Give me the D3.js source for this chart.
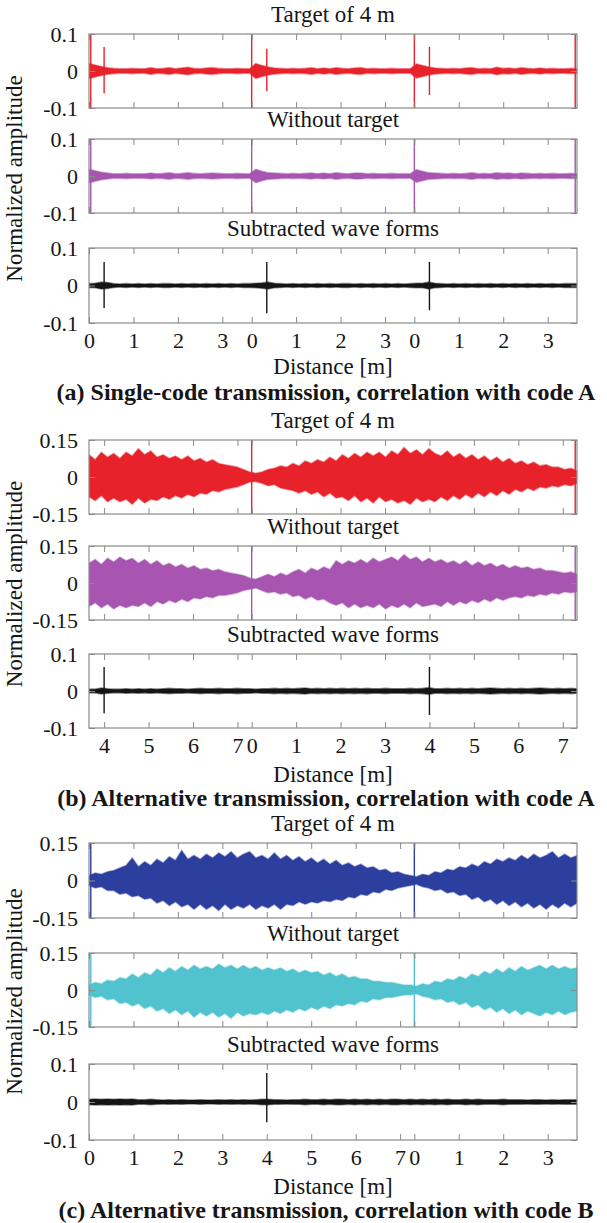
<!DOCTYPE html>
<html>
<head>
<meta charset="utf-8">
<script src="https://cdn.jsdelivr.net/npm/d3@7"></script>
<style>
  body { margin: 0; background: #fff; }
  svg text { font-family: 'Liberation Serif', 'Times New Roman', Times, 'DejaVu Serif', serif; fill: #161616; }
  .tick line { stroke: #8a8a8a; }
</style>
</head>
<body>
<svg id="fig" width="607" height="1223"></svg>
<script>
/* ── Correlation wave forms, three transmission cases ── */

// ── Distance axes (metres) ──────────────────────────
const L = 3.66;              // one code period
const U = 3 * L;             // plotted span
const segA = [[0, L], [0, L], [0, L]];
const segB = [[L, 2 * L], [0, 2 * L]];
const segC = [[0, 2 * L], [0, L]];

// ── Envelopes, 80 samples over the span ─────────────
const a1Env = [0.02,0.016,0.012,0.009,0.007,0.006,0.006,0.007,0.006,0.006,
  0.009,0.006,0.007,0.009,0.006,0.008,0.01,0.007,0.006,0.008,
  0.009,0.007,0.006,0.006,0.007,0.006,0.006,0.02,0.015,0.011,
  0.008,0.007,0.006,0.007,0.006,0.007,0.009,0.006,0.008,0.006,
  0.009,0.007,0.006,0.008,0.009,0.006,0.007,0.006,0.006,0.007,
  0.006,0.006,0.006,0.019,0.015,0.011,0.008,0.007,0.006,0.007,
  0.006,0.008,0.009,0.006,0.007,0.006,0.01,0.007,0.008,0.006,
  0.009,0.007,0.006,0.008,0.006,0.007,0.006,0.006,0.007,0.006];
const a2Env = [0.018,0.014,0.01,0.008,0.006,0.006,0.007,0.006,0.006,0.006,
  0.008,0.006,0.007,0.009,0.006,0.007,0.009,0.007,0.006,0.007,
  0.008,0.007,0.006,0.006,0.007,0.006,0.006,0.018,0.013,0.009,
  0.008,0.007,0.006,0.007,0.006,0.007,0.008,0.006,0.008,0.006,
  0.009,0.007,0.006,0.008,0.008,0.006,0.007,0.006,0.006,0.007,
  0.006,0.006,0.006,0.017,0.013,0.009,0.008,0.007,0.006,0.007,
  0.006,0.007,0.009,0.006,0.007,0.006,0.009,0.007,0.008,0.006,
  0.008,0.007,0.006,0.007,0.006,0.007,0.006,0.006,0.007,0.006];
const a3Env = [0.005,0.006,0.009,0.008,0.005,0.004,0.005,0.004,0.005,0.004,
  0.005,0.004,0.005,0.005,0.004,0.005,0.004,0.005,0.004,0.005,
  0.004,0.005,0.004,0.005,0.004,0.005,0.005,0.006,0.007,0.009,
  0.006,0.005,0.004,0.005,0.004,0.005,0.004,0.005,0.004,0.005,
  0.004,0.005,0.005,0.004,0.005,0.004,0.005,0.004,0.005,0.004,
  0.005,0.004,0.005,0.006,0.006,0.009,0.006,0.005,0.004,0.005,
  0.004,0.005,0.004,0.005,0.004,0.005,0.004,0.005,0.004,0.005,
  0.004,0.005,0.004,0.005,0.004,0.005,0.004,0.005,0.005,0.005];

const b1Hi = [0.09,0.07,0.1,0.08,0.095,0.075,
  0.1,0.085,0.115,0.09,0.105,0.08,0.09,
  0.075,0.085,0.07,0.085,0.065,0.075,
  0.06,0.07,0.055,0.05,0.045,0.04,
  0.03,0.02,0.015,
  0.02,0.03,0.035,0.045,0.04,
  0.055,0.045,0.065,0.055,0.07,0.06,0.08,0.065,
  0.09,0.075,0.095,0.08,0.1,0.085,0.1,0.08,
  0.105,0.09,0.12,0.095,0.11,0.09,0.115,0.095,0.085,0.105,
  0.08,0.095,0.075,0.09,0.07,0.085,0.065,0.08,0.06,0.075,
  0.055,0.065,0.05,0.06,0.045,0.05,0.04,
  0.04,0.03,0.035,0.025];
const b1Lo = [-0.08,-0.095,-0.075,-0.1,-0.085,-0.1,
  -0.09,-0.11,-0.085,-0.105,-0.09,-0.095,-0.08,
  -0.09,-0.075,-0.085,-0.07,-0.08,-0.065,
  -0.07,-0.055,-0.06,-0.05,-0.045,-0.04,
  -0.03,-0.02,-0.018,
  -0.025,-0.035,-0.03,-0.045,-0.05,
  -0.055,-0.065,-0.055,-0.07,-0.06,-0.08,-0.065,-0.085,
  -0.08,-0.095,-0.075,-0.1,-0.085,-0.105,-0.08,-0.1,
  -0.09,-0.105,-0.095,-0.11,-0.085,-0.1,-0.09,-0.1,-0.08,-0.095,
  -0.075,-0.09,-0.07,-0.085,-0.065,-0.08,-0.06,-0.075,-0.055,-0.07,
  -0.05,-0.06,-0.045,-0.055,-0.04,-0.045,-0.035,
  -0.04,-0.03,-0.035,-0.025];
const b2Hi = [0.08,0.095,0.075,0.1,0.085,0.105,
  0.09,0.1,0.08,0.095,0.075,0.09,0.07,
  0.08,0.065,0.075,0.06,0.07,0.055,
  0.06,0.05,0.055,0.045,0.04,0.035,
  0.03,0.02,0.015,
  0.025,0.035,0.025,0.04,0.03,
  0.045,0.055,0.04,0.06,0.05,0.065,0.055,0.09,
  0.075,0.09,0.08,0.095,0.08,0.1,0.085,0.095,
  0.105,0.09,0.115,0.095,0.105,0.085,0.1,0.085,0.095,0.08,
  0.09,0.075,0.09,0.07,0.085,0.07,0.08,0.065,0.075,0.06,
  0.07,0.06,0.065,0.055,0.06,0.05,0.05,
  0.045,0.04,0.045,0.035];
const b2Lo = [-0.095,-0.08,-0.1,-0.085,-0.105,-0.09,
  -0.1,-0.09,-0.095,-0.08,-0.095,-0.075,-0.085,
  -0.07,-0.08,-0.065,-0.075,-0.06,-0.065,
  -0.055,-0.06,-0.05,-0.05,-0.045,-0.04,
  -0.03,-0.025,-0.02,
  -0.03,-0.04,-0.035,-0.045,-0.04,
  -0.055,-0.05,-0.065,-0.055,-0.07,-0.065,-0.08,-0.09,
  -0.08,-0.1,-0.085,-0.1,-0.09,-0.1,-0.085,-0.105,
  -0.09,-0.1,-0.085,-0.1,-0.08,-0.095,-0.09,-0.085,-0.095,-0.075,
  -0.09,-0.075,-0.085,-0.07,-0.08,-0.065,-0.075,-0.06,-0.07,-0.06,
  -0.055,-0.06,-0.05,-0.055,-0.045,-0.05,-0.04,
  -0.045,-0.035,-0.04,-0.035];
const b3Env = [0.005,0.005,0.008,0.006,0.005,0.005,0.006,0.005,0.006,0.005,
  0.006,0.005,0.006,0.007,0.006,0.006,0.005,0.006,0.007,0.006,
  0.006,0.007,0.006,0.006,0.007,0.006,0.006,0.005,0.006,0.006,
  0.007,0.006,0.007,0.006,0.007,0.008,0.006,0.007,0.006,0.007,
  0.006,0.007,0.006,0.007,0.006,0.007,0.006,0.006,0.007,0.006,
  0.006,0.006,0.007,0.006,0.007,0.009,0.006,0.006,0.007,0.006,
  0.007,0.006,0.007,0.006,0.007,0.008,0.007,0.006,0.007,0.006,
  0.007,0.006,0.007,0.008,0.007,0.006,0.007,0.006,0.007,0.006];

const c1Hi = [0.02,0.03,0.025,0.035,0.04,0.05,
  0.06,0.09,0.055,0.075,0.06,0.085,0.07,
  0.095,0.08,0.12,0.085,0.1,0.085,
  0.105,0.09,0.11,0.095,0.115,0.09,
  0.105,0.115,0.09,0.1,0.085,0.11,
  0.085,0.1,0.08,0.095,0.075,0.09,
  0.07,0.085,0.065,0.08,0.06,0.07,
  0.055,0.065,0.05,0.055,0.04,0.045,
  0.03,0.035,0.025,0.02,0.015,
  0.025,0.02,0.035,0.03,0.045,0.04,
  0.055,0.05,0.065,0.055,0.075,0.065,0.085,
  0.075,0.09,0.08,0.1,0.085,0.105,0.09,
  0.1,0.115,0.09,0.105,0.09,0.1];
const c1Lo = [-0.02,-0.03,-0.025,-0.04,-0.04,-0.055,
  -0.05,-0.065,-0.06,-0.075,-0.07,-0.09,-0.08,
  -0.1,-0.085,-0.105,-0.095,-0.115,-0.095,
  -0.115,-0.1,-0.12,-0.095,-0.115,-0.1,
  -0.11,-0.095,-0.115,-0.1,-0.11,-0.095,
  -0.115,-0.095,-0.1,-0.085,-0.095,-0.085,
  -0.09,-0.08,-0.085,-0.075,-0.08,-0.065,
  -0.07,-0.055,-0.06,-0.045,-0.05,-0.035,
  -0.04,-0.03,-0.025,-0.02,-0.015,
  -0.025,-0.03,-0.04,-0.035,-0.05,-0.045,
  -0.06,-0.055,-0.075,-0.065,-0.085,-0.075,-0.095,
  -0.08,-0.1,-0.085,-0.105,-0.09,-0.11,-0.095,
  -0.115,-0.095,-0.11,-0.09,-0.105,-0.09];
const c2Hi = [0.02,0.03,0.025,0.04,0.035,0.05,
  0.045,0.065,0.05,0.07,0.06,0.085,0.07,
  0.09,0.075,0.095,0.08,0.1,0.085,
  0.095,0.085,0.105,0.09,0.1,0.085,
  0.1,0.085,0.095,0.08,0.09,0.08,
  0.09,0.075,0.085,0.07,0.08,0.07,
  0.075,0.06,0.07,0.055,0.065,0.05,
  0.055,0.045,0.045,0.035,0.035,0.03,
  0.03,0.025,0.02,0.02,0.015,
  0.025,0.02,0.035,0.03,0.045,0.04,
  0.055,0.045,0.065,0.055,0.075,0.065,0.085,
  0.07,0.09,0.075,0.095,0.08,0.09,0.1,
  0.085,0.1,0.085,0.095,0.085,0.09];
const c2Lo = [-0.02,-0.03,-0.025,-0.04,-0.035,-0.055,
  -0.05,-0.065,-0.055,-0.075,-0.065,-0.085,-0.075,
  -0.095,-0.08,-0.1,-0.085,-0.11,-0.09,
  -0.105,-0.09,-0.11,-0.095,-0.115,-0.09,
  -0.105,-0.095,-0.1,-0.09,-0.1,-0.085,
  -0.095,-0.08,-0.09,-0.075,-0.085,-0.07,
  -0.08,-0.065,-0.075,-0.06,-0.065,-0.055,
  -0.06,-0.045,-0.05,-0.035,-0.04,-0.03,
  -0.03,-0.025,-0.02,-0.02,-0.015,
  -0.025,-0.03,-0.04,-0.035,-0.05,-0.045,
  -0.06,-0.05,-0.07,-0.06,-0.08,-0.07,-0.09,
  -0.075,-0.095,-0.08,-0.1,-0.085,-0.095,-0.105,
  -0.09,-0.1,-0.085,-0.1,-0.09,-0.085];
const c3Env = [0.007,0.008,0.007,0.008,0.007,0.008,0.007,0.008,0.006,0.006,
  0.007,0.006,0.005,0.006,0.005,0.006,0.005,0.005,0.006,0.005,
  0.005,0.006,0.005,0.006,0.005,0.006,0.005,0.006,0.007,0.007,
  0.006,0.006,0.005,0.006,0.006,0.007,0.006,0.006,0.007,0.006,
  0.007,0.007,0.006,0.007,0.006,0.007,0.006,0.007,0.006,0.007,
  0.007,0.006,0.007,0.006,0.007,0.006,0.007,0.006,0.007,0.006,
  0.006,0.007,0.006,0.007,0.006,0.006,0.006,0.007,0.006,0.006,
  0.006,0.005,0.006,0.006,0.005,0.006,0.005,0.006,0.006,0.006];

// ── Spikes: [position m, top, bottom] ───────────────
const a1Spikes = [[0.04,0.2,-0.2],[0.34,0.065,-0.06],[L,0.2,-0.2],[L+0.34,0.06,-0.055],
  [2*L,0.2,-0.2],[2*L+0.34,0.065,-0.065],[U-0.04,0.2,-0.2]];
const a2Spikes = [[0.04,0.2,-0.2],[L,0.2,-0.2],[2*L,0.2,-0.2],[U-0.04,0.2,-0.2]];
const a3Spikes = [[0.34,0.063,-0.06],[L+0.34,0.063,-0.074],[2*L+0.34,0.063,-0.066]];
const b1Spikes = [[L,0.2,-0.2],[U-0.04,0.2,-0.2]];
const b2Spikes = [[L,0.2,-0.2],[U-0.04,0.2,-0.2]];
const b3Spikes = [[0.34,0.065,-0.06],[L+4,0.065,-0.065]];
const c1Spikes = [[0.04,0.2,-0.2],[2*L,0.2,-0.2]];
const c2Spikes = [[0.04,0.2,-0.2],[2*L,0.2,-0.2]];
const c3Spikes = [[4.0,0.076,-0.053]];

// ── Texts ───────────────────────────────────────────
const panelTitles = ["Target of 4 m", "Without target", "Subtracted wave forms"];
const captions = [
  "(a) Single-code transmission, correlation with code A",
  "(b) Alternative transmission, correlation with code A",
  "(c) Alternative transmission, correlation with code B"
];

// ── Layout ──────────────────────────────────────────
const X0 = 89, X1 = 577;
const FONT = "'Liberation Serif', 'Times New Roman', Times, 'DejaVu Serif', serif";
const RED = "#e8222b", PURPLE = "#a755b1", BLUE = "#2d3f9e", CYAN = "#50c3cf", BLACK = "#151515";

const groups = [
  { segs: segA, boxes: [[34,108],[139,213],[248,323]], xlab: 374, cap: 400,
    panels: [
      { lim: 0.1, env: a1Env, spikes: a1Spikes, color: RED },
      { lim: 0.1, env: a2Env, spikes: a2Spikes, color: PURPLE },
      { lim: 0.1, env: a3Env, spikes: a3Spikes, color: BLACK }] },
  { segs: segB, boxes: [[440,514],[546,620],[654,728]], xlab: 782, cap: 806,
    panels: [
      { lim: 0.15, hi: b1Hi, lo: b1Lo, spikes: b1Spikes, color: RED },
      { lim: 0.15, hi: b2Hi, lo: b2Lo, spikes: b2Spikes, color: PURPLE },
      { lim: 0.1, env: b3Env, spikes: b3Spikes, color: BLACK }] },
  { segs: segC, boxes: [[843,918],[953,1027],[1064,1140]], xlab: 1194, cap: 1218,
    panels: [
      { lim: 0.15, hi: c1Hi, lo: c1Lo, spikes: c1Spikes, color: BLUE },
      { lim: 0.15, hi: c2Hi, lo: c2Lo, spikes: c2Spikes, color: CYAN },
      { lim: 0.1, env: c3Env, spikes: c3Spikes, color: BLACK }] }
];

const svg = d3.select("#fig").attr("font-family", FONT);
const x = d3.scaleLinear().domain([0, U]).range([X0, X1]);

function distTicks(segs) {
  const out = [];
  let off = 0;
  segs.forEach(([s, e]) => {
    for (let d = Math.ceil(s - 1e-9); d <= e + 1e-9; d++) out.push({ u: off + d - s, label: d });
    off += e - s;
  });
  return out;
}

const fmtY = v => v === 0 ? "0" : (v < 0 ? "-" : "") + String(Math.abs(v));

let clipId = 0;
function drawPanel(p, top, bottom, ticks, withLabels, title) {
  const y = d3.scaleLinear().domain([-p.lim, p.lim]).range([bottom, top]);
  const g = svg.append("g");
  const id = "clip" + (clipId++);
  svg.append("clipPath").attr("id", id).append("rect")
    .attr("x", X0).attr("y", top).attr("width", X1 - X0).attr("height", bottom - top);

  const plot = g.append("g").attr("clip-path", `url(#${id})`);
  const n = (p.env || p.hi).length;
  const uAt = i => i * U / (n - 1);
  const area = d3.area()
    .x((d, i) => x(uAt(i)))
    .y0(d => y(d[0]))
    .y1(d => y(d[1]));
  const rows = p.env ? p.env.map(v => [-v, v]) : p.hi.map((v, i) => [p.lo[i], v]);
  plot.append("path").datum(rows).attr("d", area).attr("fill", p.color)
    .attr("stroke", p.color).attr("stroke-opacity", 0.45).attr("stroke-width", 1.6);

  plot.selectAll("line.spike").data(p.spikes).join("line")
    .attr("class", "spike")
    .attr("x1", d => x(d[0])).attr("x2", d => x(d[0]))
    .attr("y1", d => y(d[1])).attr("y2", d => y(d[2]))
    .attr("stroke", p.color).attr("stroke-width", 1.4);

  // Box
  g.append("rect").attr("x", X0).attr("y", top).attr("width", X1 - X0).attr("height", bottom - top)
    .attr("fill", "none").attr("stroke", "#8a8a8a").attr("stroke-width", 1.2);

  const tv = ticks.map(t => t.u);
  const bottomAx = d3.axisBottom(x).tickValues(tv).tickSizeInner(-6).tickSizeOuter(0).tickPadding(9)
    .tickFormat((d, i) => withLabels ? ticks[i].label : "");
  const topAx = d3.axisTop(x).tickValues(tv).tickSizeInner(-6).tickSizeOuter(0).tickFormat("");
  const yv = [-p.lim, 0, p.lim];
  const leftAx = d3.axisLeft(y).tickValues(yv).tickSizeInner(-6).tickSizeOuter(0).tickPadding(11).tickFormat(fmtY);
  const rightAx = d3.axisRight(y).tickValues(yv).tickSizeInner(-6).tickSizeOuter(0).tickFormat("");

  [[bottomAx, `translate(0,${bottom})`], [topAx, `translate(0,${top})`],
   [leftAx, `translate(${X0},0)`], [rightAx, `translate(${X1},0)`]].forEach(([ax, tr]) => {
    const a = g.append("g").attr("transform", tr).call(ax);
    a.attr("font-family", FONT).attr("font-size", 22);
    a.select(".domain").remove();
    a.selectAll("text").attr("fill", "#161616");
  });

  g.append("text").attr("x", (X0 + X1) / 2).attr("y", top - 12)
    .attr("text-anchor", "middle").attr("font-family", FONT).attr("font-size", 23).text(title);
}

groups.forEach(gr => {
  const ticks = distTicks(gr.segs);
  gr.panels.forEach((p, k) => {
    const [t, b] = gr.boxes[k];
    drawPanel(p, t, b, ticks, k === 2, panelTitles[k]);
  });
  svg.append("text").attr("x", (X0 + X1) / 2).attr("y", gr.xlab)
    .attr("text-anchor", "middle").attr("font-family", FONT).attr("font-size", 23).text("Distance [m]");
  const yc = (gr.boxes[0][0] + gr.boxes[2][1]) / 2;
  svg.append("text").attr("transform", `translate(22,${yc}) rotate(-90)`)
    .attr("text-anchor", "middle").attr("font-family", FONT).attr("font-size", 23).text("Normalized amplitude");
});

groups.forEach((gr, k) => {
  svg.append("text").attr("x", 326).attr("y", gr.cap)
    .attr("text-anchor", "middle").attr("font-family", FONT).attr("font-size", 24)
    .attr("font-weight", "bold").text(captions[k]);
});
</script>
</body>
</html>
